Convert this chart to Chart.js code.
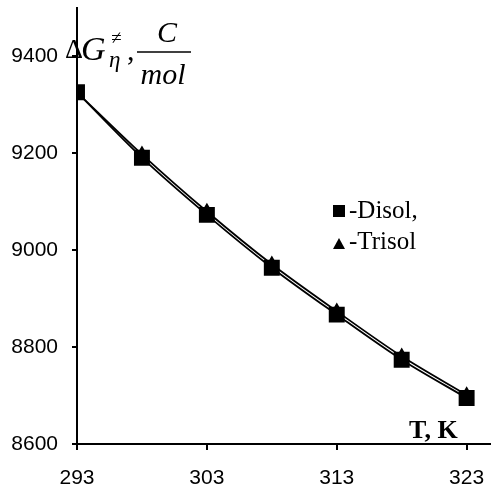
<!DOCTYPE html>
<html>
<head>
<meta charset="utf-8">
<script src="https://cdn.jsdelivr.net/npm/chart.js@4/dist/chart.umd.min.js"></script>
<style>
  html, body { margin: 0; padding: 0; background: #fff; }
  #wrap { width: 491px; height: 491px; }
</style>
</head>
<body>
<div id="wrap"><canvas id="myChart"></canvas></div>
<script>
// temperatures, K
var temps = [293, 298, 303, 308, 313, 318, 323];
// activation energy of viscous flow
var disol = [9326, 9191, 9073, 8964, 8867, 8774, 8695];
var trisol = [9326, 9198, 9080, 8971, 8874, 8781, 8701];

var xTicks = [293, 303, 313, 323];
var yTicks = [8600, 8800, 9000, 9200, 9400];

function pairs(xs, ys) {
  return xs.map(function (x, i) { return { x: x, y: ys[i] }; });
}

// title, axis name and legend drawn on top of the plot
var annotations = {
  id: 'annotations',
  afterDatasetsDraw: function (chart) {
    var ctx = chart.ctx;
    ctx.save();
    ctx.fillStyle = '#000';
    ctx.strokeStyle = '#000';
    ctx.textBaseline = 'alphabetic';

    ctx.textAlign = 'left';
    ctx.font = '28px "Liberation Serif"';
    ctx.fillText('\u0394', 65, 58);
    ctx.font = 'italic 34px "Liberation Serif"';
    ctx.fillText('G', 81, 60);
    ctx.font = 'italic 19px "Liberation Serif"';
    ctx.fillText('\u2260', 111, 44);
    ctx.font = 'italic 23px "Liberation Serif"';
    ctx.fillText('\u03b7', 109, 67);
    ctx.font = '30px "Liberation Serif"';
    ctx.fillText(',', 127, 60);

    ctx.textAlign = 'center';
    ctx.font = 'italic 30px "Liberation Serif"';
    ctx.fillText('C', 167, 42);
    ctx.fillText('mol', 163, 84);
    ctx.lineWidth = 1.5;
    ctx.beginPath();
    ctx.moveTo(137, 52);
    ctx.lineTo(191, 52);
    ctx.stroke();

    ctx.textAlign = 'left';
    ctx.font = 'bold 26px "Liberation Serif"';
    ctx.fillText('T, K', 409, 438);

    // legend
    ctx.fillRect(333, 205, 12, 12);
    ctx.beginPath();
    ctx.moveTo(333, 249);
    ctx.lineTo(345, 249);
    ctx.lineTo(339, 238);
    ctx.closePath();
    ctx.fill();
    ctx.font = '25px "Liberation Serif"';
    ctx.fillText('-Disol,', 349, 218);
    ctx.fillText('-Trisol', 349, 249);
    ctx.restore();
  }
};

function noPad(scale) {
  scale.paddingTop = 0;
  scale.paddingBottom = 0;
  scale.paddingLeft = 0;
  scale.paddingRight = 0;
}

var ctx = document.getElementById('myChart').getContext('2d');
var chart = new Chart(ctx, {
  type: 'scatter',
  data: {
    datasets: [{
      label: 'Disol',
      data: pairs(temps, disol),
      showLine: true,
      borderColor: '#000',
      backgroundColor: '#000',
      borderWidth: 1.8,
      tension: 0.3,
      pointStyle: 'rect',
      pointRadius: 10,
      pointHoverRadius: 10
    },
    {
      label: 'Trisol',
      data: pairs(temps, trisol),
      showLine: true,
      borderColor: '#000',
      backgroundColor: '#000',
      borderWidth: 1.8,
      tension: 0.3,
      pointStyle: 'triangle',
      pointRadius: 7,
      pointHoverRadius: 7
    }]
  },
  options: {
    responsive: true,
    maintainAspectRatio: false,
    animation: false,
    events: [],
    layout: {
      autoPadding: false,
      padding: { top: 8, right: 1, left: 0, bottom: 0 }
    },
    plugins: {
      legend: { display: false },
      tooltip: { enabled: false }
    },
    scales: {
      x: {
        type: 'linear',
        min: 293,
        max: 324.8,
        afterBuildTicks: function (scale) {
          scale.ticks = xTicks.map(function (v) { return { value: v }; });
        },
        afterFit: function (scale) { scale.height = 47; noPad(scale); },
        border: { color: '#000', width: 2 },
        grid: { drawOnChartArea: false, color: '#000', lineWidth: 2, tickLength: 6 },
        ticks: {
          color: '#000',
          padding: 16,
          maxRotation: 0,
          callback: function (v) { return String(v); },
          font: { family: '"Liberation Sans"', size: 21 }
        }
      },
      y: {
        min: 8600,
        max: 9500,
        afterBuildTicks: function (scale) {
          scale.ticks = yTicks.map(function (v) { return { value: v }; });
        },
        afterFit: function (scale) { scale.width = 77; noPad(scale); },
        border: { color: '#000', width: 2 },
        grid: { drawOnChartArea: false, color: '#000', lineWidth: 2, tickLength: 5 },
        ticks: {
          color: '#000',
          padding: 14,
          callback: function (v) { return String(v); },
          font: { family: '"Liberation Sans"', size: 21 }
        }
      }
    }
  },
  plugins: [annotations]
});
</script>
</body>
</html>
